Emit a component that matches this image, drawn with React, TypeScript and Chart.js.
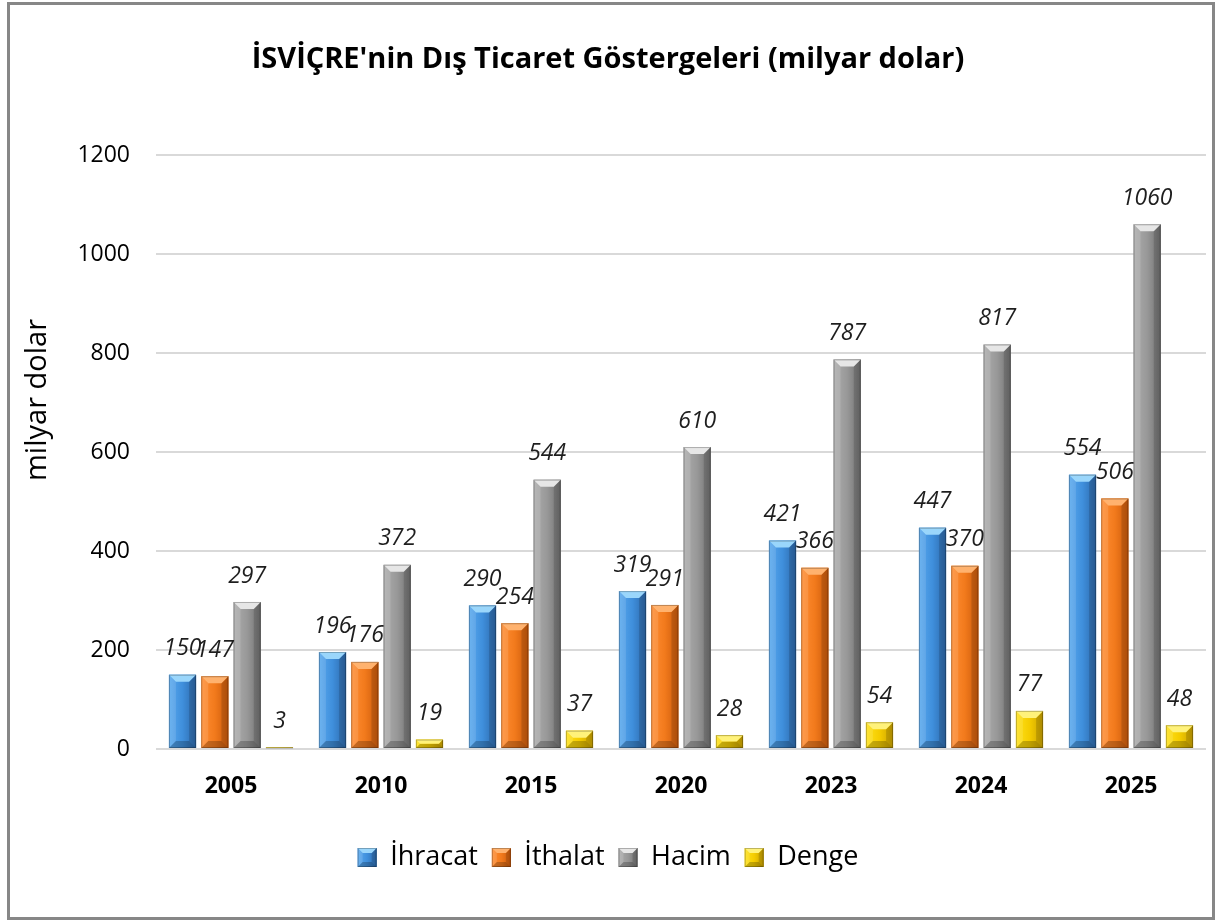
import React, { useEffect, useRef } from "react";
import { Chart, registerables } from "chart.js";

Chart.register(...registerables);

const years = ["2005", "2010", "2015", "2020", "2023", "2024", "2025"];
const ihracat = [150, 196, 290, 319, 421, 447, 554];
const ithalat = [147, 176, 254, 291, 366, 370, 506];
const hacim = [297, 372, 544, 610, 787, 817, 1060];
const denge = [3, 19, 37, 28, 54, 77, 48];
const seriesNames = ["İhracat", "İthalat", "Hacim", "Denge"];
const yTickValues = [0, 200, 400, 600, 800, 1000, 1200];
const yAxisTitle = "milyar dolar";

const palettes = [
  { base: "#3f8fdc", light: "#58a8ee", dark: "#2c68aa", top: "#9ad6fb" },
  { base: "#f27a1c", light: "#ff8d33", dark: "#c9590b", top: "#ffb26e" },
  { base: "#989898", light: "#adadad", dark: "#707070", top: "#e6e6e6" },
  { base: "#f4cc00", light: "#ffe21a", dark: "#c9a100", top: "#fff27a" },
];

const FONT = "'Open Sans', 'DejaVu Sans', sans-serif";

function poly(ctx: CanvasRenderingContext2D, pts: number[][], fill: string) {
  ctx.beginPath();
  ctx.moveTo(pts[0][0], pts[0][1]);
  for (let i = 1; i < pts.length; i++) ctx.lineTo(pts[i][0], pts[i][1]);
  ctx.closePath();
  ctx.fillStyle = fill;
  ctx.fill();
}

function drawBevel(ctx: CanvasRenderingContext2D, l: number, t: number, w: number, h: number, pal: any, maxB: number) {
  if (h <= 0 || w <= 0) return;
  const b = Math.min(maxB, w / 2, h / 2);
  const r = l + w;
  const bot = t + h;
  const g = ctx.createLinearGradient(l, 0, r, 0);
  g.addColorStop(0, pal.light);
  g.addColorStop(0.5, pal.base);
  g.addColorStop(1, pal.dark);
  ctx.fillStyle = g;
  ctx.fillRect(l, t, w, h);
  poly(ctx, [[l, t], [l + b, t + b], [l + b, bot - b], [l, bot]], "rgba(255,255,255,0.12)");
  poly(ctx, [[r, t], [r - b, t + b], [r - b, bot - b], [r, bot]], "rgba(0,0,0,0.14)");
  poly(ctx, [[l, bot], [r, bot], [r - b, bot - b], [l + b, bot - b]], "rgba(0,0,0,0.22)");
  poly(ctx, [[l, t], [r, t], [r - b, t + b], [l + b, t + b]], pal.top);
  ctx.strokeStyle = "rgba(0,0,0,0.25)";
  ctx.lineWidth = 1;
  ctx.strokeRect(l + 0.5, t + 0.5, w - 1, h - 1);
}

const bevelPlugin = {
  id: "bevelBars",
  afterDatasetsDraw(chart: any) {
    const ctx: CanvasRenderingContext2D = chart.ctx;
    ctx.save();
    chart.data.datasets.forEach((ds: any, di: number) => {
      const meta = chart.getDatasetMeta(di);
      meta.data.forEach((el: any) => {
        const { x, y, base, width } = el.getProps(["x", "y", "base", "width"], true);
        drawBevel(ctx, x - width / 2, y, width, base - y, palettes[di], 7);
      });
    });
    ctx.font = `italic 23px ${FONT}`;
    ctx.fillStyle = "#1e1e1e";
    ctx.textAlign = "center";
    ctx.textBaseline = "middle";
    chart.data.datasets.forEach((ds: any, di: number) => {
      const meta = chart.getDatasetMeta(di);
      meta.data.forEach((el: any, i: number) => {
        ctx.fillText(String(ds.data[i]), el.x, el.y - 26);
      });
    });
    ctx.restore();
  },
  afterDraw(chart: any) {
    const ctx: CanvasRenderingContext2D = chart.ctx;
    ctx.save();
    const ca = chart.chartArea;
    ctx.translate(28, (ca.top + ca.bottom) / 2 - 52);
    ctx.rotate(-Math.PI / 2);
    ctx.font = `29px ${FONT}`;
    ctx.fillStyle = "#000";
    ctx.textAlign = "center";
    ctx.textBaseline = "middle";
    ctx.fillText(yAxisTitle, 0, 0);
    ctx.restore();

    const legend = chart.legend;
    if (!legend || !legend.legendHitBoxes) return;
    ctx.save();
    legend.legendHitBoxes.forEach((hb: any, i: number) => {
      const size = 19;
      const top = hb.top + (hb.height - size) / 2;
      drawBevel(ctx, hb.left, top, size, size, palettes[i], 5);
    });
    ctx.restore();
  },
};

export default function App() {
  const ref = useRef<HTMLCanvasElement | null>(null);

  useEffect(() => {
    if (!ref.current) return;
    const datasets = [ihracat, ithalat, hacim, denge].map((d, i) => ({
      label: seriesNames[i],
      data: d,
      backgroundColor: palettes[i].base,
      borderWidth: 0,
      categoryPercentage: 0.862,
      barPercentage: 0.84,
    }));
    const chart = new Chart(ref.current, {
      type: "bar",
      data: { labels: years, datasets },
      options: {
        responsive: false,
        animation: false,
        layout: { padding: { left: 0, right: 6, top: 0, bottom: 36 } },
        plugins: {
          title: {
            display: true,
            text: "İSVİÇRE'nin Dış Ticaret Göstergeleri (milyar dolar)",
            color: "#000",
            font: { family: FONT, size: 29, weight: "bold" },
            padding: { top: 37, bottom: 78.2 },
          },
          legend: {
            position: "bottom",
            labels: {
              color: "#000",
              font: { family: FONT, size: 27 },
              boxWidth: 19,
              boxHeight: 19,
              padding: 14,
            },
          },
          tooltip: { enabled: false },
        },
        scales: {
          x: {
            grid: { display: false, drawTicks: false },
            border: { display: false },
            ticks: {
              color: "#000",
              font: { family: FONT, size: 23, weight: "bold" },
              padding: 24,
            },
            afterFit(scale: any) {
              scale.height = 81;
            },
          },
          y: {
            min: 0,
            max: 1200,
            grid: { color: "#d9d9d9", lineWidth: 2, drawTicks: false },
            border: { display: false },
            ticks: {
              stepSize: 200,
              color: "#000",
              font: { family: FONT, size: 23 },
              padding: 26,
              callback: (v: any) => (yTickValues.includes(Number(v)) ? String(v) : ""),
            },
            afterFit(scale: any) {
              scale.width = 146;
            },
          },
        },
      },
      plugins: [bevelPlugin],
    } as any);
    return () => chart.destroy();
  }, []);

  return (
    <div
      style={{
        position: "fixed",
        left: 7,
        top: 2,
        width: 1208,
        height: 918,
        border: "3px solid #878787",
        boxSizing: "border-box",
        background: "#fff",
      }}
    >
      <canvas ref={ref} width={1202} height={912} style={{ display: "block" }} />
    </div>
  );
}
